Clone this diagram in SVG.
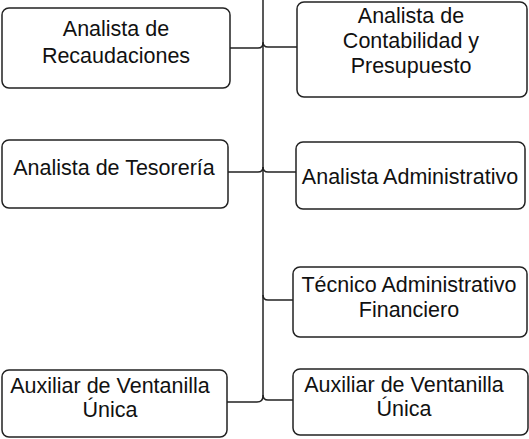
<svg xmlns="http://www.w3.org/2000/svg" width="529" height="439" viewBox="0 0 529 439">
<style>
.box{fill:#fff;stroke:#222;stroke-width:1.5}
.lbl{font-family:"Liberation Sans",Arial,sans-serif;font-size:21.5px;fill:#111;text-anchor:middle}
.con{fill:none;stroke:#222;stroke-width:1.5}
</style>
<rect width="529" height="439" fill="#fff"/>
<g id="connectors">
<path class="con" d="M263,0 V396"/>
<path class="con" d="M263,43 Q263,48 258,48 H230"/>
<path class="con" d="M263,42 Q263,47 268,47 H297"/>
<path class="con" d="M263,167 Q263,172 258,172 H228"/>
<path class="con" d="M263,167 Q263,172 268,172 H296"/>
<path class="con" d="M263,295 Q263,300 268,300 H293"/>
<path class="con" d="M263,396 Q263,402 257,402 H227"/>
<path class="con" d="M263,395 Q263,400 268,400 H293"/>
</g>
<g id="n1">
<rect class="box" x="2" y="8" width="228" height="80" rx="7"/>
<text class="lbl" x="116" y="36">Analista de</text>
<text class="lbl" x="116" y="63">Recaudaciones</text>
</g>
<g id="n2">
<rect class="box" x="297" y="2" width="230" height="95" rx="7"/>
<text class="lbl" x="411" y="23">Analista de</text>
<text class="lbl" x="411" y="48">Contabilidad y</text>
<text class="lbl" x="411" y="73">Presupuesto</text>
</g>
<g id="n3">
<rect class="box" x="2" y="140" width="226" height="68" rx="7"/>
<text class="lbl" x="114" y="175">Analista de Tesorería</text>
</g>
<g id="n4">
<rect class="box" x="296" y="142" width="229" height="67" rx="7"/>
<text class="lbl" x="410" y="184">Analista Administrativo</text>
</g>
<g id="n5">
<rect class="box" x="293" y="267" width="234" height="70" rx="7"/>
<text class="lbl" x="409" y="292">Técnico Administrativo</text>
<text class="lbl" x="409" y="317">Financiero</text>
</g>
<g id="n6">
<rect class="box" x="2" y="370" width="225" height="67" rx="7"/>
<text class="lbl" x="110" y="393">Auxiliar de Ventanilla</text>
<text class="lbl" x="110" y="417">Única</text>
</g>
<g id="n7">
<rect class="box" x="293" y="369" width="235" height="66" rx="7"/>
<text class="lbl" x="404" y="392">Auxiliar de Ventanilla</text>
<text class="lbl" x="404" y="416">Única</text>
</g>
</svg>
